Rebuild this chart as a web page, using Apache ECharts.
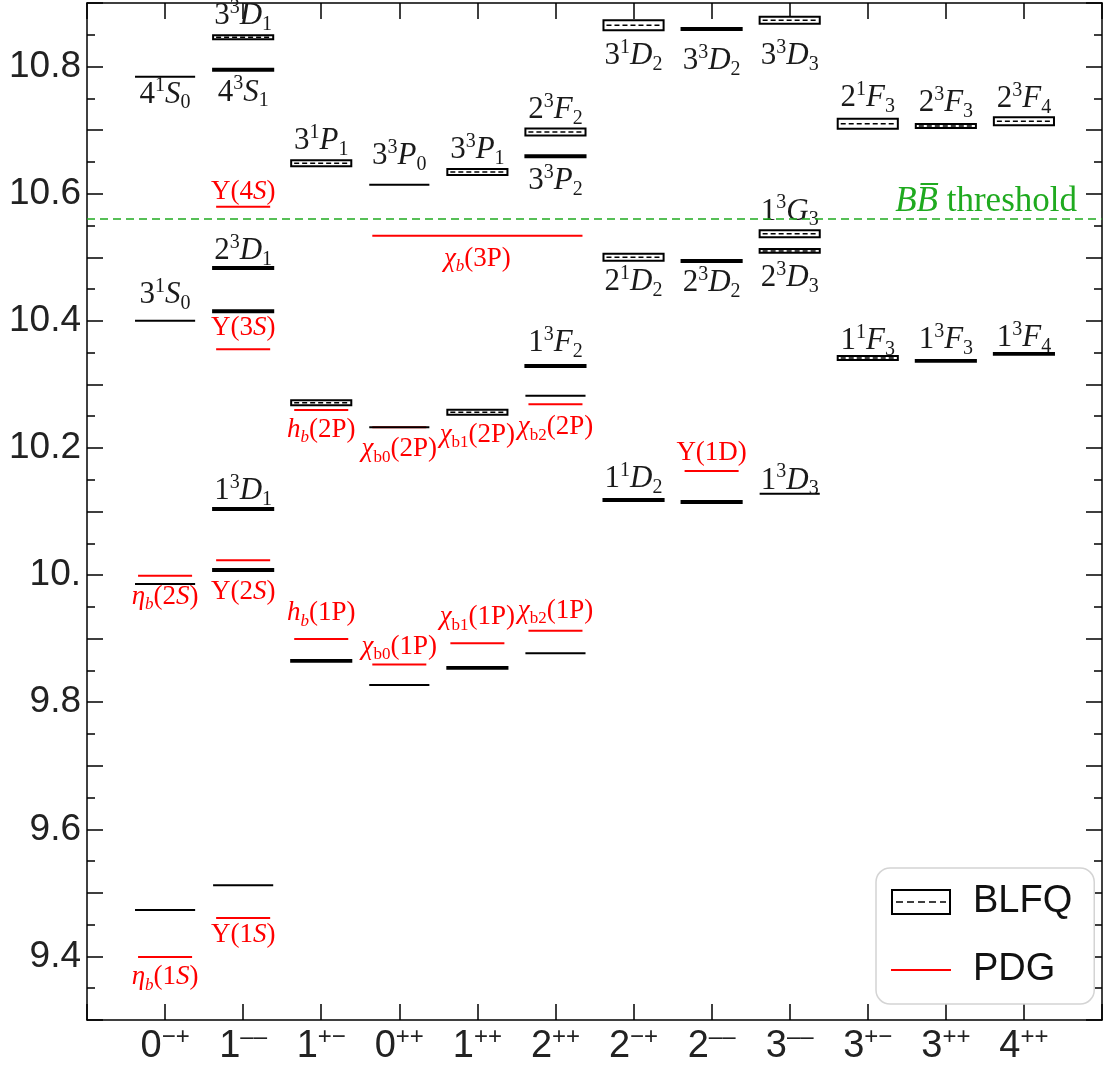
<!DOCTYPE html>
<html>
<head>
<meta charset="utf-8" />
<title>bottomonium spectrum</title>
<style>
  html, body { margin: 0; padding: 0; background: #fff; }
  #chart { width: 1105px; height: 1068px; }
</style>
</head>
<body>
<div id="chart"></div>
<script src="https://cdn.jsdelivr.net/npm/echarts@6/dist/echarts.min.js"></script>
<script>
// J^PC columns along the x axis
var categories = ['0−+', '1−−', '1+−', '0++', '1++', '2++', '2−+', '2−−', '3−−', '3+−', '3++', '4++'];

// y tick labels (the 10.0 one really reads "10.")
var yTickValues = [9.4, 9.6, 9.8, 10.0, 10.2, 10.4, 10.6, 10.8];
var yTickLabels = ['9.4', '9.6', '9.8', '10.', '10.2', '10.4', '10.6', '10.8'];

// BLFQ levels: [column, mass (GeV), half band (GeV), name]
// names: ^ = superscript, _ = subscript, ~ = italic next char
var blfqLevels = [
  [0, 10.784, 0, '4^1~S_0'],
  [0, 10.400, 0, '3^1~S_0'],
  [0, 9.986, 0, ''],
  [0, 9.473, 0, ''],
  [1, 10.846, 0.0031, '3^3~D_1'],
  [1, 10.795, 0.0015, '4^3~S_1'],
  [1, 10.483, 0.0015, '2^3~D_1'],
  [1, 10.415, 0.0015, ''],
  [1, 10.104, 0.0015, '1^3~D_1'],
  [1, 10.008, 0.0015, ''],
  [1, 9.512, 0, ''],
  [2, 10.648, 0.0047, '3^1~P_1'],
  [2, 10.271, 0.0039, ''],
  [2, 9.865, 0.0015, ''],
  [3, 10.614, 0, '3^3~P_0'],
  [3, 10.2325, 0, ''],
  [3, 9.827, 0, ''],
  [4, 10.634, 0.0047, '3^3~P_1'],
  [4, 10.256, 0.0039, ''],
  [4, 9.854, 0.0015, ''],
  [5, 10.697, 0.0055, '2^3~F_2'],
  [5, 10.659, 0.0015, '3^3~P_2'],
  [5, 10.329, 0.0015, '1^3~F_2'],
  [5, 10.282, 0, ''],
  [5, 9.877, 0, ''],
  [6, 10.865, 0.0079, '3^1~D_2'],
  [6, 10.500, 0.0055, '2^1~D_2'],
  [6, 10.118, 0.0015, '1^1~D_2'],
  [7, 10.859, 0.0015, '3^3~D_2'],
  [7, 10.494, 0.0015, '2^3~D_2'],
  [7, 10.115, 0.0015, ''],
  [8, 10.873, 0.0055, '3^3~D_3'],
  [8, 10.537, 0.0055, '1^3~G_3'],
  [8, 10.510, 0.003, '2^3~D_3'],
  [8, 10.128, 0, '1^3~D_3'],
  [9, 10.710, 0.0079, '2^1~F_3'],
  [9, 10.3415, 0.0031, '1^1~F_3'],
  [10, 10.7065, 0.003, '2^3~F_3'],
  [10, 10.337, 0.0015, '1^3~F_3'],
  [11, 10.714, 0.0063, '2^3~F_4'],
  [11, 10.348, 0.0015, '1^3~F_4']
];

// PDG levels: [first column, last column, mass (GeV), name]
var pdgLevels = [
  [0, 0, 9.399, '~η_b(1~S)'],
  [0, 0, 9.999, '~η_b(2~S)'],
  [1, 1, 9.4603, 'Υ(1~S)'],
  [1, 1, 10.0233, 'Υ(2~S)'],
  [1, 1, 10.3552, 'Υ(3~S)'],
  [1, 1, 10.5794, 'Υ(4~S)'],
  [2, 2, 9.8993, '~h_b(1P)'],
  [2, 2, 10.2598, '~h_b(2P)'],
  [3, 3, 9.8594, '~χ_{b0}(1P)'],
  [3, 3, 10.2325, '~χ_{b0}(2P)'],
  [4, 4, 9.8928, '~χ_{b1}(1P)'],
  [4, 4, 10.2555, '~χ_{b1}(2P)'],
  [5, 5, 9.9122, '~χ_{b2}(1P)'],
  [5, 5, 10.2686, '~χ_{b2}(2P)'],
  [3, 5, 10.534, '~χ_b(3P)'],
  [7, 7, 10.1637, 'Υ(1D)']
];

var thresholdMass = 10.558;

// where each name sits relative to its level, px (negative = above)
var labelOffset = {
  '4^1~S_0': 18, '3^1~S_0': -26, '3^3~D_1': -21, '4^3~S_1': 23, '2^3~D_1': -17, '1^3~D_1': -18,
  '3^1~P_1': -22, '3^3~P_0': -29, '3^3~P_1': -22, '2^3~F_2': -22, '3^3~P_2': 25, '1^3~F_2': -23,
  '3^1~D_2': 31, '2^1~D_2': 25, '1^1~D_2': -21, '3^3~D_2': 32, '2^3~D_2': 22,
  '3^3~D_3': 36, '1^3~G_3': -22, '2^3~D_3': 27, '1^3~D_3': -13,
  '2^1~F_3': -26, '1^1~F_3': -17, '2^3~F_3': -23, '1^3~F_3': -21, '2^3~F_4': -22, '1^3~F_4': -16,
  'Υ(4~S)': -15, 'Υ(3~S)': -21, '~η_b(2~S)': 21, 'Υ(2~S)': 32, '~h_b(2P)': 20, '~h_b(1P)': -26,
  '~χ_{b0}(2P)': 22, '~χ_{b1}(2P)': 22, '~χ_{b2}(2P)': 23, '~χ_{b0}(1P)': -18, '~χ_{b1}(1P)': -26,
  '~χ_{b2}(1P)': -20, 'Υ(1D)': -18, 'Υ(1~S)': 17, '~η_b(1~S)': 20, '~χ_b(3P)': 23
};

var SERIF = 'Liberation Serif, Times New Roman, serif';
var SANS = 'Liberation Sans, Helvetica, Arial, sans-serif';

// tiny markup -> echarts rich string
function toRich(s) {
  var out = '', i = 0;
  while (i < s.length) {
    var ch = s[i];
    if (ch === '^' || ch === '_') {
      var t;
      i++;
      if (s[i] === '{') { var k = s.indexOf('}', i); t = s.slice(i + 1, k); i = k + 1; }
      else { t = s[i]; i++; }
      var st = ch === '^' ? 'sp' : (/^[a-z]$/.test(t) ? 'sbi' : 'sb');
      out += '{' + st + '|' + t + '}';
    } else if (ch === '~') {
      out += '{it|' + s[i + 1] + '}';
      i += 2;
    } else {
      var j = i;
      while (j < s.length && '^_~'.indexOf(s[j]) < 0) j++;
      out += '{n|' + s.slice(i, j) + '}';
      i = j;
    }
  }
  return out;
}

function labelRich(color, size) {
  var small = Math.round(size * 0.64);
  return {
    n:   {fontFamily: SERIF, fontSize: size, lineHeight: size + 6, fill: color},
    it:  {fontFamily: SERIF, fontSize: size, fontStyle: 'italic', lineHeight: size + 6, fill: color},
    sp:  {fontFamily: SERIF, fontSize: small, lineHeight: small + 2, verticalAlign: 'top', fill: color},
    sb:  {fontFamily: SERIF, fontSize: small, lineHeight: small + 2, verticalAlign: 'bottom', fill: color},
    sbi: {fontFamily: SERIF, fontSize: small, fontStyle: 'italic', lineHeight: small + 2, verticalAlign: 'bottom', fill: color}
  };
}

function textEl(x, y, name, color, size) {
  return {
    type: 'text', x: x, y: y,
    style: {
      text: toRich(name), rich: labelRich(color, size), fill: color,
      fontFamily: SERIF, fontSize: size, align: 'center', verticalAlign: 'middle'
    }
  };
}

function renderBlfq(params, api) {
  var col = api.value(0), m = api.value(1), e = api.value(2);
  var name = blfqLevels[params.dataIndex][3];
  var p = api.coord([col, m]);
  var hw = api.size([1, 0])[0] * 0.385;
  var kids = [];
  if (e > 0) {
    var y0 = api.coord([col, m + e])[1], y1 = api.coord([col, m - e])[1];
    kids.push({type: 'rect', shape: {x: p[0] - hw, y: y0, width: 2 * hw, height: y1 - y0},
      style: {fill: '#fff', stroke: '#000', lineWidth: 2}});
    kids.push({type: 'line', shape: {x1: p[0] - hw + 3, y1: p[1], x2: p[0] + hw - 3, y2: p[1]},
      style: {stroke: '#000', lineWidth: 1.5, lineDash: [5, 3]}});
  } else {
    kids.push({type: 'line', shape: {x1: p[0] - hw, y1: p[1], x2: p[0] + hw, y2: p[1]},
      style: {stroke: '#000', lineWidth: 2}});
  }
  if (name) kids.push(textEl(p[0], p[1] + (labelOffset[name] || -22), name, '#1a1a1a', 31));
  return {type: 'group', children: kids};
}

function renderPdg(params, api) {
  var m = api.value(2);
  var a = api.coord([api.value(0), m]), b = api.coord([api.value(1), m]);
  var hw = api.size([1, 0])[0] * 0.346;
  var name = pdgLevels[params.dataIndex][3];
  return {type: 'group', children: [
    {type: 'line', shape: {x1: a[0] - hw, y1: a[1], x2: b[0] + hw, y2: b[1]},
      style: {stroke: '#ff0000', lineWidth: 2}},
    textEl((a[0] + b[0]) / 2, a[1] + (labelOffset[name] || 22), name, '#ff0000', 27)
  ]};
}

var blfqIcon = 'path://M0,0H60V26H0Z M2,2V24H58V2Z' +
  'M5,12.2h7v1.6h-7Z M16,12.2h7v1.6h-7Z M27,12.2h7v1.6h-7Z M38,12.2h7v1.6h-7Z M49,12.2h6v1.6h-6Z';

var tickStyle = {color: '#000', width: 1.5};
function xAxisOpt(pos) {
  return {
    type: 'value', position: pos, min: -1, max: 12, interval: 1,
    axisLine: {show: true, onZero: false, lineStyle: {color: '#000', width: 1.5}},
    axisTick: {show: true, inside: true, length: 16, lineStyle: tickStyle},
    splitLine: {show: false},
    axisLabel: pos === 'bottom' ? {
      margin: 5,
      formatter: function (v) {
        var s = categories[Math.round(v)];
        if (v < 0 || !s) return '';
        return '{n|' + s[0] + '}{s|' + s.slice(1).replace('−−', '––') + '}';
      },
      rich: {
        n: {fontFamily: SANS, fontSize: 38, lineHeight: 44, color: '#222'},
        s: {fontFamily: SANS, fontSize: 24, lineHeight: 24, verticalAlign: 'top', color: '#222'}
      }
    } : {show: false}
  };
}
function yAxisOpt(pos) {
  return {
    type: 'value', position: pos, min: 9.3, max: 10.9, interval: 0.1,
    axisLine: {show: true, onZero: false, lineStyle: {color: '#000', width: 1.5}},
    axisTick: {show: true, inside: true, length: 16, lineStyle: tickStyle},
    minorTick: {show: true, splitNumber: 2, length: 8, lineStyle: tickStyle},
    splitLine: {show: false},
    axisLabel: pos === 'left' ? {
      margin: 6, fontFamily: SANS, fontSize: 37, color: '#222',
      formatter: function (v) {
        for (var i = 0; i < yTickValues.length; i++) {
          if (Math.abs(v - yTickValues[i]) < 1e-6) return yTickLabels[i];
        }
        return '';
      }
    } : {show: false}
  };
}

var chart = echarts.init(document.getElementById('chart'), null, {renderer: 'canvas'});
chart.setOption({
  animation: false,
  backgroundColor: '#fff',
  grid: {left: 87, right: 3, top: 3, bottom: 48},
  xAxis: [xAxisOpt('bottom'), xAxisOpt('top')],
  yAxis: [yAxisOpt('left'), yAxisOpt('right')],
  legend: {
    left: 876, top: 868, orient: 'vertical',
    padding: [14, 22, 14, 15],
    itemWidth: 60, itemHeight: 26, itemGap: 28,
    backgroundColor: '#fff', borderColor: '#d4d4d4', borderWidth: 1.5, borderRadius: 14,
    selectedMode: false,
    textStyle: {fontFamily: SANS, fontSize: 38, lineHeight: 40, color: '#111', padding: [0, 0, 0, 17]},
    data: [
      {name: 'BLFQ', icon: blfqIcon, itemStyle: {color: '#000', borderWidth: 0}},
      {name: 'PDG', icon: 'path://M0,0H60V2.2H0Z', itemStyle: {color: '#ff0000', borderWidth: 0}}
    ]
  },
  series: [
    {
      name: 'PDG', type: 'custom', silent: true, itemStyle: {color: '#ff0000'},
      encode: {x: [0, 1], y: 2},
      renderItem: renderPdg,
      data: pdgLevels.map(function (r) { return [r[0], r[1], r[2]]; })
    },
    {
      name: 'BLFQ', type: 'custom', silent: true, itemStyle: {color: '#000'},
      encode: {x: 0, y: 1},
      renderItem: renderBlfq,
      data: blfqLevels.map(function (r) { return [r[0], r[1], r[2]]; })
    },
    {
      name: 'threshold', type: 'line', data: [], silent: true,
      markLine: {
        silent: true, symbol: 'none', animation: false,
        lineStyle: {color: '#1faa1f', type: [8, 5], width: 1.5},
        label: {
          position: 'insideEndTop', distance: [25, 0],
          formatter: '{i|BB\u0305}{n| threshold}',
          rich: {
            i: {fontFamily: SERIF, fontStyle: 'italic', fontSize: 35, color: '#1faa1f'},
            n: {fontFamily: SERIF, fontSize: 35, color: '#1faa1f'}
          }
        },
        data: [{yAxis: thresholdMass}]
      }
    }
  ]
});
</script>
</body>
</html>
